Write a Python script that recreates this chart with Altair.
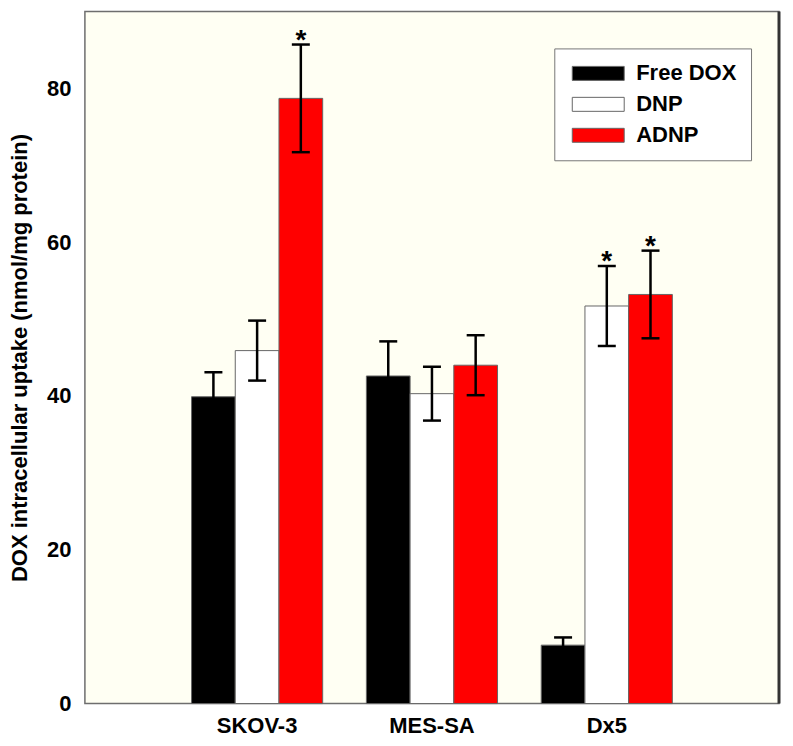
import altair as alt
import pandas as pd

cells = ["SKOV-3", "MES-SA", "Dx5"]
series = ["Free DOX", "DNP", "ADNP"]
colors = ["#000000", "#ffffff", "#ff0000"]

free_dox = [39.9, 42.6, 7.6]
free_dox_err = [3.2, 4.5, 1.0]
dnp = [45.9, 40.3, 51.7]
dnp_err = [3.9, 3.5, 5.2]
adnp = [78.7, 44.0, 53.2]
adnp_err = [7.0, 3.9, 5.7]
star_free = ["", "", ""]
star_dnp = ["", "", "*"]
star_adnp = ["*", "", "*"]

rows = []
for s, vals, errs, stars in [
    ("Free DOX", free_dox, free_dox_err, star_free),
    ("DNP", dnp, dnp_err, star_dnp),
    ("ADNP", adnp, adnp_err, star_adnp),
]:
    for c, v, e, st in zip(cells, vals, errs, stars):
        rows.append({"cell": c, "series": s, "value": v, "lo": v - e, "hi": v + e, "star": st})
df = pd.DataFrame(rows)

W, H = 695, 693
FONT = "Liberation Sans"

x = alt.X("cell:N", sort=cells,
          scale=alt.Scale(paddingInner=0.25, paddingOuter=0.61),
          axis=alt.Axis(title=None, labelAngle=0, ticks=False, domain=False,
                        labelPadding=12, labelFontSize=22, labelFontWeight="bold",
                        labelColor="#000000", labelFont=FONT))
xo = alt.XOffset("series:N", sort=series,
                 scale=alt.Scale(domain=series, paddingInner=0, paddingOuter=0))
yscale = alt.Scale(domain=[0, 90], nice=False)

base = alt.Chart(df)

bars = base.mark_bar(stroke="#666666", strokeWidth=1).encode(
    x=x, xOffset=xo,
    y=alt.Y("value:Q", scale=yscale,
            axis=alt.Axis(title="DOX intracellular uptake (nmol/mg protein)",
                          values=[0, 20, 40, 60, 80], grid=False, ticks=False, domain=False,
                          labelPadding=14, labelFontSize=22, labelFontWeight="bold",
                          labelColor="#000000", labelFont=FONT,
                          titleFontSize=22, titleFontWeight="bold", titleColor="#000000",
                          titleFont=FONT, titlePadding=15)),
    color=alt.Color("series:N", sort=series,
                    scale=alt.Scale(domain=series, range=colors),
                    legend=alt.Legend(title=None, orient="none", legendX=470, legendY=37,
                                      padding=14, fillColor="#ffffff", strokeColor="#777777",
                                      symbolType="M-1,-1L6.43,-1L6.43,1L-1,1Z",
                                      symbolSize=196, symbolStrokeColor="#666666",
                                      symbolStrokeWidth=1, symbolOpacity=1,
                                      labelFontSize=22, labelFontWeight="bold",
                                      labelFont=FONT, labelColor="#000000",
                                      labelOffset=46, labelLimit=300, rowPadding=9)),
)

err = base.mark_rule(color="#000000", strokeWidth=2.5).encode(
    x=x, xOffset=xo, y=alt.Y("lo:Q", scale=yscale), y2="hi:Q")
cap_hi = base.mark_tick(color="#000000", size=18, thickness=2.5, opacity=1).encode(
    x=x, xOffset=xo, y=alt.Y("hi:Q", scale=yscale))
cap_lo = base.mark_tick(color="#000000", size=18, thickness=2.5, opacity=1).encode(
    x=x, xOffset=xo, y=alt.Y("lo:Q", scale=yscale))
stars = base.transform_filter("datum.star != ''").mark_text(
    fontSize=28, fontWeight="bold", font=FONT, baseline="alphabetic", dy=4, color="#000000"
).encode(x=x, xOffset=xo, y=alt.Y("hi:Q", scale=yscale), text="star:N")

right_edge = alt.Chart(pd.DataFrame({"a": [0]})).mark_rule(color="#333333", strokeWidth=3).encode(
    x=alt.value(W), y=alt.value(0), y2=alt.value(H))

chart = alt.layer(bars, err, cap_hi, cap_lo, stars, right_edge).properties(
    width=W, height=H,
    padding={"left": 0, "top": 1, "right": 4, "bottom": 0},
    background="#ffffff",
).configure_view(fill="#fffff3", stroke="#6e6e6e", strokeWidth=1.5)

chart.save("out.html", embed_options={"renderer": "svg", "actions": False})
